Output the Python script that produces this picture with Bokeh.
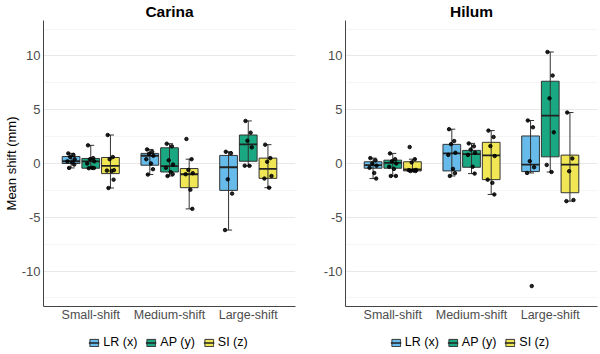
from bokeh.plotting import figure
from bokeh.models import Range1d, FixedTicker, ColumnDataSource, Legend, LegendItem
from bokeh.layouts import row, column
from bokeh.embed import file_html
from bokeh.resources import INLINE

# ---- data ---------------------------------------------------------------
CATEGORIES = ["Small-shift", "Medium-shift", "Large-shift"]
SERIES = ["LR (x)", "AP (y)", "SI (z)"]

# Box statistics: one row per series (LR, AP, SI), one value per category
carina_lo = [[-0.41, -1.03, -6.19], [-0.44, -1.16, -0.22], [-2.28, -4.22, -2.25]]
carina_q1 = [[0.00, -0.16, -2.50], [-0.44, -0.79, 0.21], [-0.94, -2.25, -1.38]]
carina_med = [[0.21, 0.72, -0.35], [0.19, -0.25, 1.78], [-0.22, -1.00, -0.50]]
carina_q3 = [[0.65, 0.94, 0.75], [0.47, 1.46, 2.65], [0.56, -0.47, 0.50]]
carina_hi = [[0.94, 1.31, 1.09], [1.69, 1.84, 3.96], [2.65, 0.40, 1.75]]

hilum_lo = [[-1.40, -1.16, -0.88], [-1.16, -0.94, -0.79], [-0.69, -2.88, -3.50]]
hilum_q1 = [[-0.44, -0.69, -0.75], [-0.44, -0.35, 0.62], [-0.69, -1.50, -2.72]]
hilum_med = [[-0.16, 0.94, -0.10], [0.06, 0.87, 4.46], [-0.56, 0.75, -0.10]]
hilum_q3 = [[0.16, 1.78, 2.56], [0.31, 1.22, 7.65], [0.16, 1.97, 0.78]]
hilum_hi = [[0.50, 3.19, 4.00], [0.94, 1.87, 10.37], [0.40, 3.06, 4.74]]

# Individual patient shifts (mm)
carina_lr_pts = [[0.94, 0.80, 0.60, 0.40, 0.20, 0.10, -0.10, -0.41],
                 [1.31, 1.10, 0.90, 0.72, 0.40, 0.00, -0.53, -1.03],
                 [1.09, 0.95, -1.47, -2.80, -6.19]]
carina_ap_pts = [[1.69, 0.50, 0.40, 0.20, 0.00, -0.40, -0.42, -0.44],
                 [1.84, 1.60, 0.30, -0.10, -0.40, -0.80, -1.00, -1.16],
                 [3.96, 2.87, 2.12, 1.50, -0.20, -0.22]]
carina_si_pts = [[2.65, 0.60, 0.40, -0.62, -0.66, -0.70, -1.50, -2.28],
                 [2.28, 0.40, -0.60, -0.90, -1.00, -2.44, -4.22],
                 [1.75, 0.50, 0.16, -1.16, -1.40, -2.25]]

hilum_lr_pts = [[0.50, 0.30, 0.00, -0.20, -0.40, -0.88, -1.40],
                [3.19, 2.09, 1.80, 1.00, 0.80, -0.50, -0.90, -1.16],
                [4.00, 3.37, 0.22, -0.35, -0.88, -11.40]]
hilum_ap_pts = [[0.94, 0.40, 0.20, 0.00, -0.30, -0.50, -1.16, -1.16],
                [1.87, 1.60, 1.30, 1.00, 0.80, -0.30, -0.94],
                [10.37, 8.18, 6.06, 2.90, -0.13, -0.79]]
hilum_si_pts = [[1.53, 0.40, 0.10, -0.60, -0.62, -0.65, -0.70, -0.70],
                [3.06, 2.47, 1.62, 0.70, -1.50, -1.80, -2.88],
                [4.74, 0.47, -0.72, -3.40, -3.50]]

# ---- styling ------------------------------------------------------------
COLORS = ["#56B4E9", "#009E73", "#F0E442"]
DODGE = [-0.25, 0.0, 0.25]
BOX_W = 0.225
CAP_W = 0.09
JITTER = [-0.035, 0.03, -0.01, 0.045, -0.045, 0.015, 0.04, -0.025]
FONT = "Liberation Sans"
DARK = "#333333"
AXIS = "#444444"
PANEL_H = 330
LEGEND_H = 24


def make_panel(title, lo, q1, med, q3, hi, pts, width, border_left, border_right, ylabel):
    p = figure(width=width, height=PANEL_H, title=title,
               x_range=Range1d(0.4, 3.6), y_range=Range1d(-13.3, 13.3),
               output_backend="svg", toolbar_location=None,
               min_border_left=border_left, min_border_right=border_right,
               min_border_top=0, min_border_bottom=24)
    p.outline_line_color = None
    p.background_fill_color = "white"
    p.border_fill_color = "white"

    p.title.align = "center"
    p.title.text_font = FONT
    p.title.text_font_style = "bold"
    p.title.text_font_size = "15.5px"
    p.title.text_color = "black"
    p.title.standoff = 1
    p.title.offset = 0

    p.xgrid.visible = False
    p.yaxis.ticker = FixedTicker(ticks=[-10, -5, 0, 5, 10],
                                 minor_ticks=[-12.5, -7.5, -2.5, 2.5, 7.5, 12.5])
    p.ygrid.grid_line_color = "#E8E8E8"
    p.ygrid.grid_line_width = 1.2
    p.ygrid.minor_grid_line_color = "#F2F2F2"
    p.ygrid.minor_grid_line_width = 0.8
    p.yaxis.major_label_overrides = {-10: "-10", -5: "-5", 0: "0", 5: "5", 10: "10"}

    p.xaxis.ticker = FixedTicker(ticks=[1, 2, 3])
    p.xaxis.major_label_overrides = {i + 1: c for i, c in enumerate(CATEGORIES)}

    for ax in (p.xaxis, p.yaxis):
        ax.axis_line_color = AXIS
        ax.axis_line_width = 1
        ax.major_tick_line_color = None
        ax.minor_tick_line_color = None
        ax.major_tick_out = 0
        ax.major_tick_in = 0
        ax.minor_tick_out = 0
        ax.minor_tick_in = 0
        ax.major_label_text_font = FONT
        ax.major_label_text_color = "#4D4D4D"
    p.xaxis.major_label_text_font_size = "12.5px"
    p.xaxis.major_label_standoff = 1
    p.yaxis.major_label_text_font_size = "13px"
    p.yaxis.major_label_standoff = 3
    if ylabel:
        p.yaxis.axis_label = ylabel
        p.yaxis.axis_label_text_font = FONT
        p.yaxis.axis_label_text_font_size = "13px"
        p.yaxis.axis_label_text_font_style = "normal"
        p.yaxis.axis_label_text_color = "black"
        p.yaxis.axis_label_standoff = 0

    for s, name in enumerate(SERIES):
        xs = [i + 1 + DODGE[s] for i in range(len(CATEGORIES))]
        src = ColumnDataSource(dict(
            x=xs, lo=lo[s], q1=q1[s], med=med[s], q3=q3[s], hi=hi[s],
            cl=[x - CAP_W / 2 for x in xs], cr=[x + CAP_W / 2 for x in xs],
            bl=[x - BOX_W / 2 for x in xs], br=[x + BOX_W / 2 for x in xs],
        ))
        p.vbar(x="x", width=BOX_W, bottom="q1", top="q3", source=src,
               fill_color=COLORS[s], fill_alpha=0.9,
               line_color=DARK, line_width=1)
        p.segment(x0="x", y0="lo", x1="x", y1="hi", source=src,
                  line_color=DARK, line_width=1)
        p.segment(x0="cl", y0="hi", x1="cr", y1="hi", source=src,
                  line_color=DARK, line_width=1)
        p.segment(x0="cl", y0="lo", x1="cr", y1="lo", source=src,
                  line_color=DARK, line_width=1)
        p.segment(x0="bl", y0="med", x1="br", y1="med", source=src,
                  line_color="#222222", line_width=1.8)

    for s in range(len(SERIES)):
        px, py = [], []
        for i, vals in enumerate(pts[s]):
            for k, v in enumerate(vals):
                px.append(i + 1 + DODGE[s] + JITTER[k % len(JITTER)])
                py.append(v)
        p.scatter(px, py, size=3.5, color="black", alpha=0.85)
    return p


def make_legend(width, border_left, border_right):
    lg = figure(width=width, height=LEGEND_H, x_range=Range1d(0, 1), y_range=Range1d(0, 1),
                output_backend="svg", toolbar_location=None,
                min_border_left=border_left, min_border_right=border_right,
                min_border_top=0, min_border_bottom=0)
    lg.axis.visible = False
    lg.grid.visible = False
    lg.outline_line_color = None
    lg.border_fill_color = "white"
    items = []
    for s, name in enumerate(SERIES):
        key_src = ColumnDataSource(dict(x=[0.5], y=[0.5]))
        box = lg.vbar(x="x", width=0, bottom="y", top="y", source=key_src,
                      fill_color=COLORS[s], fill_alpha=0.9,
                      line_color=DARK, line_width=1)
        mid = lg.segment(x0="x", y0="y", x1="x", y1="y", source=key_src,
                         line_color="#222222", line_width=1.5)
        items.append(LegendItem(label=name, renderers=[box, mid]))
    legend = Legend(items=items, orientation="horizontal", location="center",
                    glyph_width=11, glyph_height=9, label_text_font=FONT,
                    label_text_font_size="12.5px", label_text_color="black",
                    label_standoff=4, spacing=8, padding=0, margin=0,
                    border_line_color=None, background_fill_alpha=0)
    lg.add_layout(legend, "center")
    return lg


p1 = make_panel("Carina", carina_lo, carina_q1, carina_med, carina_q3, carina_hi,
                [carina_lr_pts, carina_ap_pts, carina_si_pts],
                320, 41, 25, "Mean shift (mm)")
p2 = make_panel("Hilum", hilum_lo, hilum_q1, hilum_med, hilum_q3, hilum_hi,
                [hilum_lr_pts, hilum_ap_pts, hilum_si_pts],
                280, 22, 3, None)
l1 = make_legend(320, 41, 25)
l2 = make_legend(280, 22, 3)

layout = column(row(p1, p2), row(l1, l2))
open("out.html", "w").write(file_html(layout, INLINE))
